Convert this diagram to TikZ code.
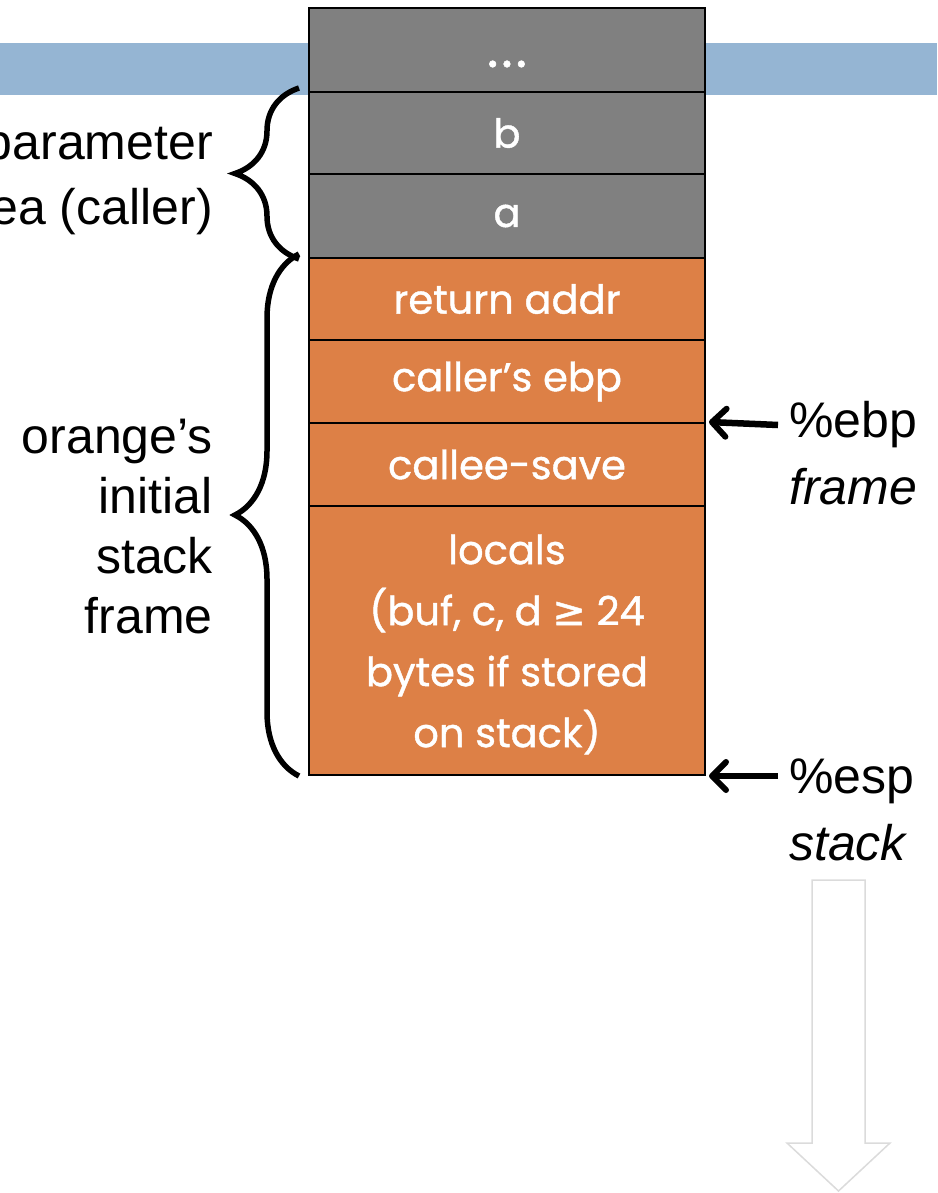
\documentclass[tikz,border=0pt]{standalone}
\usepackage{fontspec}
\setmainfont{Liberation Sans}
\newfontfamily\cellfont[FakeBold=1]{Poppins}
\newfontfamily\symfont[FakeBold=1]{DejaVu Sans}
\usetikzlibrary{decorations.pathreplacing,arrows.meta}
\definecolor{band}{HTML}{95B5D3}
\definecolor{cellgray}{HTML}{808080}
\definecolor{cellorange}{HTML}{DD8046}
\tikzset{
  cell/.style={draw=black, line width=2pt, minimum width=396pt, inner sep=0pt,
    text=white, align=center, font=\cellfont\fontsize{40}{61}\selectfont},
  graycell/.style={cell, fill=cellgray},
  orangecell/.style={cell, fill=cellorange},
  celltext/.style={text=white, align=center, inner sep=0pt, font=\cellfont\fontsize{40}{61}\selectfont},
  lbl/.style={font=\fontsize{50}{60}\selectfont, text=black, inner sep=0pt},
  bracestyle/.style={decorate, decoration={brace, amplitude=64pt}, line width=5.5pt},
  ptr/.style={-{Straight Barb[length=14pt,width=28pt,line width=6pt,round]}, line width=6.5pt},
}
\begin{document}
\begin{tikzpicture}[x=1pt,y=-1pt]
\useasboundingbox (0,0) rectangle (937,1193);
% blue band
\fill[band] (0,43) rectangle (937,95);
% stack cells
\node[graycell, minimum height=84pt] (dots) at (507,50) {};
\node[celltext, font=\cellfont\fontsize{54}{54}\selectfont] (dotstxt) at ([yshift=-14pt]dots.center) {.\kern3pt.\kern3pt.};
\node[graycell, minimum height=82pt] (b) at (507,133) {b};
\node[graycell, minimum height=84pt] (a) at (507,216) {a};
\node[orangecell, minimum height=82pt] (ret) at (507,299) {return addr};
\node[orangecell, minimum height=83pt] (cebp) at (507,381.5) {caller’s ebp};
\node[orangecell, minimum height=83pt] (csave) at (507,464.5) {callee-save};
\node[orangecell, minimum height=269pt] (locals) at (507,640.5) {};
\node[celltext] (localstxt) at ([yshift=-4pt]locals.center)
  {locals\\(buf, c, d {\symfont ≥} 24\\bytes if stored\\on stack)};
% left labels
\node[lbl, anchor=east, align=right, font=\fontsize{50}{65}\selectfont] (param) at (213,181) {parameter\\area (caller)};
\node[lbl, anchor=east, align=right] (orng) at (213,527) {orange’s\\initial\\stack\\frame};
% braces
\draw[bracestyle] ([xshift=-9pt]a.south west) -- ([xshift=-9pt,yshift=3pt]b.north west);
\draw[bracestyle] ([xshift=-9pt]locals.south west) -- ([xshift=-9pt,yshift=3pt]ret.north west);
% right labels
\node[lbl, anchor=west] (ebp) at (789,425) {\%ebp};
\node[lbl, anchor=west] (frame) at (789,487) {\itshape frame};
\node[lbl, anchor=west] (esp) at (789,781) {\%esp};
\node[lbl, anchor=west] (stack) at (789,843) {\itshape stack};
\draw[ptr] ([xshift=-11pt]ebp.west) -- ([xshift=3pt]csave.north east);
\draw[ptr] ([xshift=-11pt]esp.west |- locals.south) -- ([xshift=3pt]locals.south east);
% big growth arrow
\draw[draw=black!14, line width=1.5pt, fill=white, line join=miter]
  (812,880) -- (865,880) -- (865,1143) -- (890,1143) -- (838.5,1191) -- (787,1143) -- (812,1143) -- cycle;
\end{tikzpicture}
\end{document}
